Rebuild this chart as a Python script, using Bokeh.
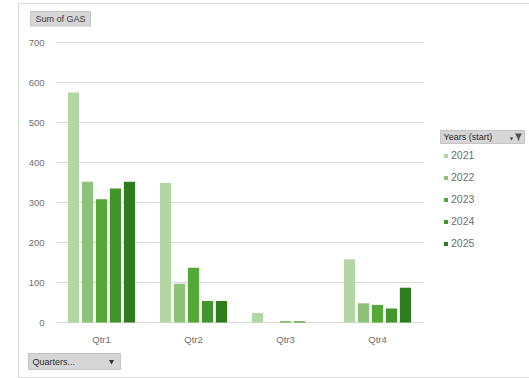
from bokeh.plotting import figure
from bokeh.models import Range1d, Legend, LegendItem, ColumnDataSource
from bokeh.core.properties import value
from bokeh.embed import file_html
from bokeh.resources import INLINE

quarters = ["Qtr1", "Qtr2", "Qtr3", "Qtr4"]
years = ["2021", "2022", "2023", "2024", "2025"]
gas_2021 = [575, 349, 24, 158]
gas_2022 = [352, 97, 0, 48]
gas_2023 = [308, 137, 3, 44]
gas_2024 = [335, 54, 3, 35]
gas_2025 = [352, 54, 0, 87]
y_ticks = [0, 100, 200, 300, 400, 500, 600, 700]
colors = ["#b3d6a4", "#8cc27a", "#52a935", "#40962a", "#2f7c1f"]

series = [gas_2021, gas_2022, gas_2023, gas_2024, gas_2025]

W, H = 529, 378
# plot-area placement in pixels (the frame is the whole canvas; ranges map the plot area)
FL, FR, FT, FB = 55, 423, 42, 322
UX = (FR - FL) / len(quarters)      # px per category
UY = (FB - FT) / 700.0               # px per unit of GAS

def dx(px):
    return (px - FL) / UX

def dy(py):
    return (FB - py) / UY

p = figure(width=W, height=H, x_range=Range1d(dx(0), dx(W)), y_range=Range1d(dy(H), dy(0)),
           output_backend="svg", toolbar_location=None,
           min_border=0, min_border_left=0, min_border_right=0,
           min_border_top=0, min_border_bottom=0)
p.axis.visible = False
p.grid.visible = False
p.outline_line_color = None
p.background_fill_color = "white"
p.border_fill_color = "white"

FONT = value("Liberation Sans")

# outer chart frame
p.quad(left=dx(18), right=dx(545), top=dy(3), bottom=dy(377),
       fill_color=None, line_color="#d9d9d9", line_width=1)

# gridlines
p.segment(x0=[0] * len(y_ticks), x1=[len(quarters)] * len(y_ticks), y0=y_ticks, y1=y_ticks,
          line_color="#d9d9d9", line_width=1)

# y tick labels
p.text(x=[dx(44)] * len(y_ticks), y=y_ticks, text=[str(t) for t in y_ticks],
       text_align="right", text_baseline="middle", text_font=FONT,
       text_font_size="9.5px", text_color="#6e6e6e")

# category labels
centers = [i + 0.5 for i in range(len(quarters))]
p.text(x=centers, y=[dy(339)] * len(quarters), text=quarters, text_align="center",
       text_baseline="middle", text_font=FONT, text_font_size="9.5px", text_color="#6e6e6e")

# bars
offsets = [-0.304, -0.152, 0.0, 0.152, 0.304]
renderers = []
for yr, vals, off, c in zip(years, series, offsets, colors):
    src = ColumnDataSource(dict(x=[cx + off for cx in centers], top=vals))
    r = p.vbar(x="x", top="top", bottom=0, width=0.122, source=src,
               fill_color=c, line_color=None)
    renderers.append(r)

# "Sum of GAS" field button
p.quad(left=dx(30), right=dx(90), top=dy(11), bottom=dy(25.5),
       fill_color="#d6d6d6", line_color="#c4c4c4")
p.text(x=[dx(60)], y=[dy(18.5)], text=["Sum of GAS"], text_align="center",
       text_baseline="middle", text_font=FONT, text_font_size="9px", text_color="#3a3a3a")

# "Quarters..." field button
p.quad(left=dx(28), right=dx(120), top=dy(353), bottom=dy(369),
       fill_color="#d6d6d6", line_color="#c4c4c4")
p.text(x=[dx(32)], y=[dy(361)], text=["Quarters..."], text_align="left",
       text_baseline="middle", text_font=FONT, text_font_size="9px", text_color="#2a2a2a")
p.scatter(x=[dx(111)], y=[dy(361)], marker="inverted_triangle", size=5,
          fill_color="#303030", line_color=None)

# legend header
p.quad(left=dx(440), right=dx(524), top=dy(130), bottom=dy(143),
       fill_color="#d6d6d6", line_color="#c4c4c4")
p.text(x=[dx(443)], y=[dy(136.5)], text=["Years (start)"], text_align="left",
       text_baseline="middle", text_font=FONT, text_font_size="9px", text_color="#2a2a2a")
p.scatter(x=[dx(511)], y=[dy(138)], marker="inverted_triangle", size=3.5,
          fill_color="#404040", line_color=None)
p.scatter(x=[dx(518)], y=[dy(135)], marker="inverted_triangle", size=7,
          fill_color="#505050", line_color=None)
p.segment(x0=[dx(518)], x1=[dx(518)], y0=[dy(136)], y1=[dy(140)],
          line_color="#505050", line_width=1.5)

legend = Legend(items=[LegendItem(label=yr, renderers=[r]) for yr, r in zip(years, renderers)],
                location=(443, H - 251), padding=0, margin=0,
                border_line_color=None, background_fill_color=None, background_fill_alpha=0,
                glyph_width=5, glyph_height=5, label_height=16, spacing=6, label_standoff=3,
                label_text_font="Liberation Sans", label_text_font_size="10.5px",
                label_text_color="#6e6e6e")
p.add_layout(legend, "center")

open("out.html", "w").write(file_html(p, INLINE))
